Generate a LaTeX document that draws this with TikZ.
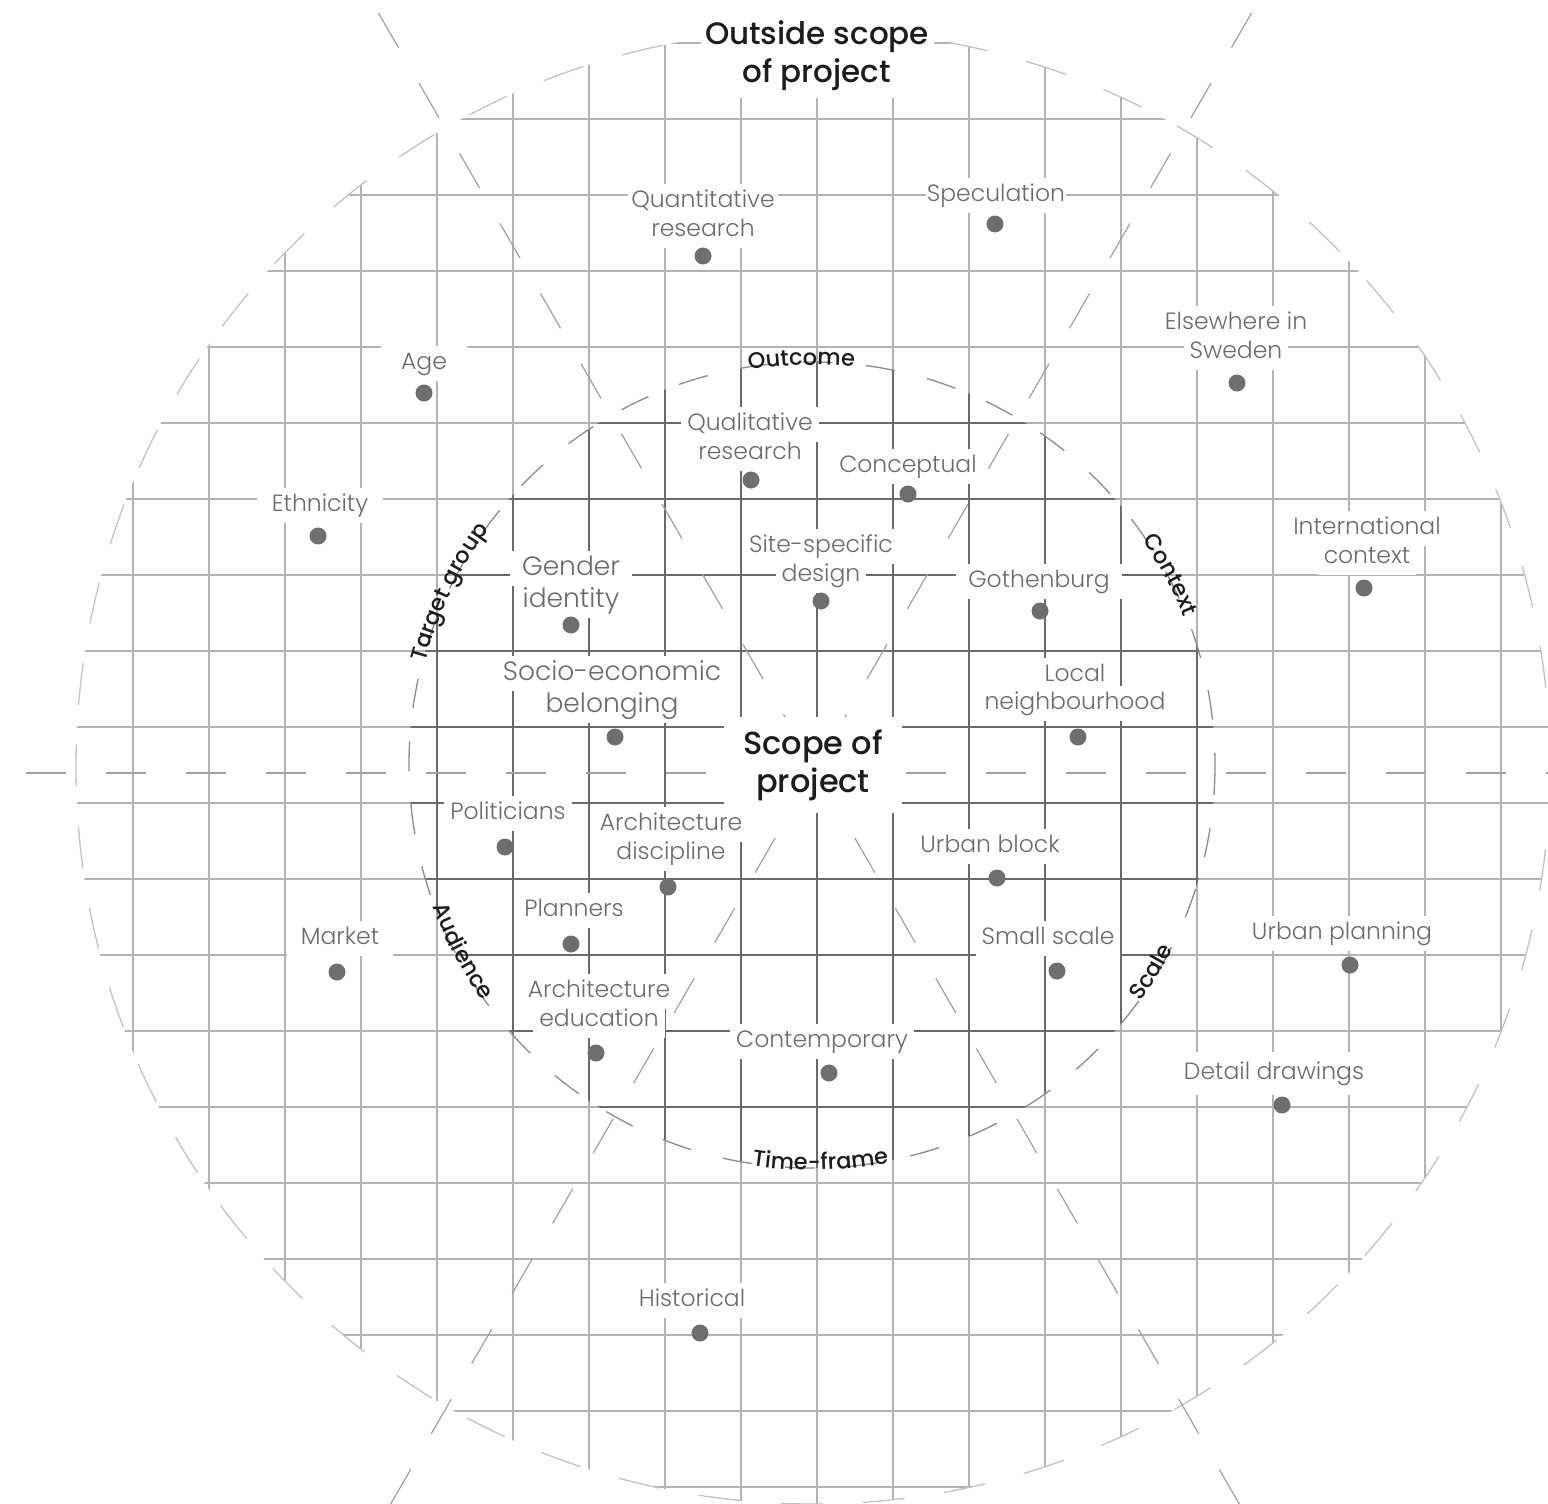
\documentclass[tikz,border=0pt]{standalone}
\usepackage{fontspec}
\setmainfont{Poppins}
\newfontfamily\plight{Poppins Light}
\newfontfamily\pmed{Poppins Medium}
\usetikzlibrary{decorations.text}
\definecolor{lblgray}{HTML}{6A6A6A}
\definecolor{dotgray}{HTML}{6E6E6E}
\definecolor{gridlight}{HTML}{B2B2B2}
\definecolor{griddark}{HTML}{6A6A6A}
\definecolor{dashgray}{HTML}{A0A0A0}
\definecolor{innerdash}{HTML}{8C8C8C}
\definecolor{outerdash}{HTML}{C2C2C2}
\definecolor{ink}{HTML}{1C1C1C}
\newcommand\catfont{\pmed\fontsize{22.5}{26}\selectfont\color{ink}}
\begin{document}
\begin{tikzpicture}[x=1pt,y=-1pt,
  gridl/.style={gridlight, line width=1.3pt},
  gridd/.style={griddark, line width=1.3pt},
  raddash/.style={dashgray, line width=1.2pt, dash pattern=on 40pt off 41pt},
  lbl/.style={fill=white, text=lblgray, font=\plight\fontsize{23.5}{28}\selectfont,
    inner xsep=6pt, inner ysep=6pt, text height=17pt, text depth=6pt, yshift=-2.5pt},
  biglbl/.style={lbl, font=\plight\fontsize{26.5}{31}\selectfont, text height=19pt, text depth=6pt, inner ysep=5pt},
  dot/.style={circle, fill=dotgray, inner sep=0pt, minimum size=17pt},
  bigtitle/.style={fill=white, text=ink, align=center, inner sep=0pt, font=\pmed\fontsize{31}{38}\selectfont},
  cat/.style={decorate, decoration={text along path, text align=center, text={|\catfont|#1}}}
]
\useasboundingbox (0,0) rectangle (1548,1504);
\fill[white] (0,0) rectangle (1548,1504);

% light grid clipped to outer circle
\begin{scope}
  \clip (813,767) circle[radius=737];
  \foreach \k in {-9,...,9} \draw[gridl] ({817+76*\k},0) -- ({817+76*\k},1504);
  \foreach \k in {-10,...,9} \draw[gridl] (0,{803+76*\k}) -- (1548,{803+76*\k});
\end{scope}
% dark grid clipped to inner circle
\begin{scope}
  \clip (812,765) circle[radius=403];
  \foreach \k in {-9,...,9} \draw[gridd] ({817+76*\k},0) -- ({817+76*\k},1504);
  \foreach \k in {-10,...,9} \draw[gridd] (0,{803+76*\k}) -- (1548,{803+76*\k});
\end{scope}

% circles
\draw[outerdash, line width=1.3pt, dash pattern=on 42pt off 40pt] (813,767) circle[radius=737];
\draw[innerdash, line width=1.3pt, dash pattern=on 30pt off 33pt] (812,765) circle[radius=403];

% radial and horizontal dashed lines
\coordinate (ctr) at (815,769);
\coordinate (tl) at (378.5,13);
\coordinate (tr) at (1251.5,13);
\coordinate (bl) at (390.7,1504);
\coordinate (br) at (1239.3,1504);
\coordinate (hl) at (26,773);
\coordinate (hr) at (1566,773);
\draw[raddash] (tl) -- (ctr);
\draw[raddash] (tr) -- (ctr);
\draw[raddash] (bl) -- (ctr);
\draw[raddash] (br) -- (ctr);
\draw[dashgray, line width=1.2pt, dash pattern=on 40pt off 40pt] (hl) -- (hr);

% titles
\node[bigtitle, minimum width=233pt, minimum height=84pt] (outside) at (817,56) {Outside scope\\of project};
\node[bigtitle, minimum width=178pt, minimum height=96pt, font=\pmed\fontsize{32}{38}\selectfont] (scope) at (813,765) {Scope of\\project};

% labels
\node[lbl, inner xsep=3pt] (quant1) at (703,199) {Quantitative};
\node[lbl] (quant2) at (703,228) {research};
\node[lbl, inner xsep=1pt] (spec) at (996,193) {Speculation};
\node[lbl, inner xsep=12pt] (else1) at (1236,321) {Elsewhere in};
\node[lbl] (else2) at (1236,350) {Sweden};
\node[lbl, inner xsep=20pt] (age) at (424,361) {Age};
\node[lbl] (qual1) at (750,422) {Qualitative};
\node[lbl] (qual2) at (750,451) {research};
\node[lbl] (concept) at (908,464) {Conceptual};
\node[lbl, inner xsep=15pt] (ethn) at (320,503) {Ethnicity};
\node[lbl] (intl1) at (1367,526) {International};
\node[lbl] (intl2) at (1367,555) {context};
\node[biglbl, inner xsep=12pt] (gend1) at (571,566) {Gender};
\node[biglbl] (gend2) at (571,598) {identity};
\node[lbl, inner xsep=4pt] (site1) at (821,544) {Site-specific};
\node[lbl] (site2) at (821,573) {design};
\node[lbl, inner xsep=12pt] (goth) at (1039,579) {Gothenburg};
\node[biglbl] (socio1) at (612,671) {Socio-economic};
\node[biglbl] (socio2) at (612,703) {belonging};
\node[lbl] (local1) at (1075,673) {Local};
\node[lbl] (local2) at (1075,701) {neighbourhood};
\node[lbl] (polit) at (508,811) {Politicians};
\node[lbl] (archd1) at (671,822) {Architecture};
\node[lbl] (archd2) at (671,851) {discipline};
\node[lbl] (ublock) at (990,844) {Urban block};
\node[lbl, inner xsep=14pt] (market) at (340,936) {Market};
\node[lbl] (plan) at (574,908) {Planners};
\node[lbl] (small) at (1048,936) {Small scale};
\node[lbl] (uplan) at (1342,931) {Urban planning};
\node[lbl] (arche1) at (599,989) {Architecture};
\node[lbl] (arche2) at (599,1018) {education};
\node[lbl] (contemp) at (822,1039) {Contemporary};
\node[lbl, inner ysep=10pt] (detail) at (1274,1071) {Detail drawings};
\node[lbl] (hist) at (692,1298) {Historical};

% dots
\node[dot] (dquant) at (703,256) {};
\node[dot] (dspec) at (995,224) {};
\node[dot] (delse) at (1237,383) {};
\node[dot] (dage) at (424,393) {};
\node[dot] (dqual) at (751,480) {};
\node[dot] (dconcept) at (908,494) {};
\node[dot] (dethn) at (318,536) {};
\node[dot] (dintl) at (1364,588) {};
\node[dot] (dgend) at (571,625) {};
\node[dot] (dsite) at (821,601) {};
\node[dot] (dgoth) at (1040,611) {};
\node[dot] (dsocio) at (615,737) {};
\node[dot] (dlocal) at (1078,737) {};
\node[dot] (dpolit) at (505,847) {};
\node[dot] (darchd) at (668,887) {};
\node[dot] (dublock) at (997,878) {};
\node[dot] (dmarket) at (337,972) {};
\node[dot] (dplan) at (571,944) {};
\node[dot] (dsmall) at (1057,971) {};
\node[dot] (duplan) at (1350,965) {};
\node[dot] (darche) at (596,1053) {};
\node[dot] (dcontemp) at (829,1073) {};
\node[dot] (ddetail) at (1282,1105) {};
\node[dot] (dhist) at (700,1333) {};

% category labels along the inner circle
\begin{scope}[shift={(812,765)}, y=1pt]
  \path[cat=Outcome] (131.5:400) arc[start angle=131.5, end angle=51.5, radius=400];
  \path[cat=Context] (68:400) arc[start angle=68, end angle=-12, radius=400];
  \path[cat=Target group] (194.5:400) arc[start angle=194.5, end angle=114.5, radius=400];
  \path[cat=Scale] (-71.4:405) arc[start angle=-71.4, end angle=8.6, radius=405];
  \path[cat=Time-frame] (-128.8:405) arc[start angle=-128.8, end angle=-48.8, radius=405];
  \path[cat=Audience] (168:405) arc[start angle=168, end angle=248, radius=405];
\end{scope}
\end{tikzpicture}
\end{document}
